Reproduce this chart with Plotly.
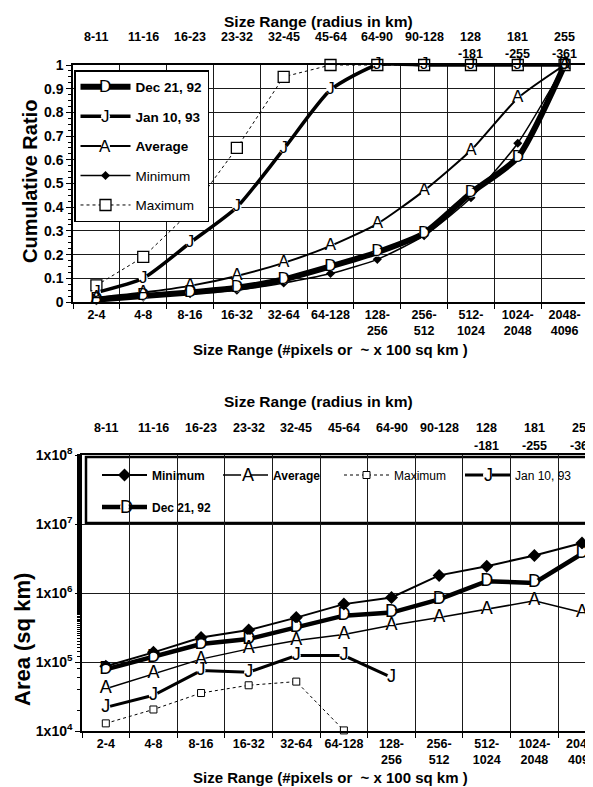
import plotly.graph_objects as go

# ---------------- data ----------------
size_cats = ["2-4", "4-8", "8-16", "16-32", "32-64", "64-128", "128-256",
             "256-512", "512-1024", "1024-2048", "2048-4096"]
size_ticktext = ["2-4", "4-8", "8-16", "16-32", "32-64", "64-128", "128-<br>256",
                 "256-<br>512", "512-<br>1024", "1024-<br>2048", "2048-<br>4096"]
radius_row1 = ["8-11", "11-16", "16-23", "23-32", "32-45", "45-64", "64-90",
               "90-128", "128", "181", "255"]
radius_row2 = ["", "", "", "", "", "", "", "", "-181", "-255", "-361"]

ratio_ticks = [0, 0.1, 0.2, 0.3, 0.4, 0.5, 0.6, 0.7, 0.8, 0.9, 1.0]
ratio_ticktext = ["0", "0.1", "0.2", "0.3", "0.4", "0.5", "0.6", "0.7", "0.8", "0.9", "1"]

# Cumulative ratio (top chart)
cum_dec = [0.01, 0.025, 0.04, 0.06, 0.095, 0.15, 0.21, 0.29, 0.46, 0.61, 1.0]
cum_jan = [0.04, 0.10, 0.25, 0.40, 0.645, 0.895, 1.0, 1.0, 1.0, 1.0, 1.0]
cum_avg = [0.018, 0.04, 0.068, 0.11, 0.165, 0.237, 0.33, 0.47, 0.64, 0.86, 1.0]
cum_min = [0.005, 0.02, 0.035, 0.05, 0.08, 0.12, 0.18, 0.28, 0.44, 0.67, 1.0]
cum_max = [0.07, 0.19, 0.38, 0.65, 0.95, 1.0, 1.0, 1.0, 1.0, 1.0, 1.0]

# Area in sq km (bottom chart)
area_min = [8.7e4, 1.38e5, 2.27e5, 2.9e5, 4.4e5, 6.9e5, 8.6e5, 1.8e6, 2.45e6, 3.5e6, 5.3e6]
area_dec = [7.8e4, 1.17e5, 1.82e5, 2.15e5, 3.2e5, 4.7e5, 5.2e5, 8.1e5, 1.48e6, 1.4e6, 3.7e6]
area_avg = [4.1e4, 6.8e4, 1.1e5, 1.55e5, 2.05e5, 2.5e5, 3.4e5, 4.4e5, 5.8e5, 7.7e5, 5.2e5]
area_jan = [2.2e4, 3.3e4, 7.5e4, 7.1e4, 1.24e5, 1.24e5, 6.0e4, None, None, None, None]
area_max = [1.29e4, 2.05e4, 3.55e4, 4.6e4, 5.2e4, 1.02e4, None, None, None, None, None]

log_tickvals = [1e4, 1e5, 1e6, 1e7, 1e8]
log_ticktext = ["1x10<sup>4</sup>", "1x10<sup>5</sup>", "1x10<sup>6</sup>",
                "1x10<sup>7</sup>", "1x10<sup>8</sup>"]

FONT = "Liberation Sans, Arial, Helvetica, sans-serif"
PAGE_W, PAGE_H = 593, 787
OFF = 8  # default page body margin
W, H = PAGE_W - OFF, PAGE_H - OFF


def px_x(p):
    return (p - OFF) / W


def px_y(p):
    return (H - (p - OFF)) / H


fig = go.Figure()
letter_layers = []


def letter_series(x, y, name, letter, width, xa, ya, legend, rank, group, size=17,
                  shape="linear"):
    # line + white knock-out marker (shown in legend)
    fig.add_trace(go.Scatter(
        x=x, y=y, name=name, xaxis=xa, yaxis=ya, legend=legend, legendrank=rank,
        legendgroup=group, mode="lines+markers",
        marker=dict(symbol="circle", size=9, color="white", line=dict(width=0)),
        line=dict(color="black", width=width, shape=shape, smoothing=0.6),
        cliponaxis=False, connectgaps=False))
    # letter glyphs at each point (drawn on top, not in legend)
    letter_layers.append(go.Scatter(
        x=x, y=y, xaxis=xa, yaxis=ya, legendgroup=group, showlegend=False,
        mode="text", text=[letter if v is not None else "" for v in y],
        textposition="middle center", hoverinfo="skip",
        textfont=dict(family=FONT, size=size, color="black"), cliponaxis=False))


# ---------- top chart ----------
fig.add_trace(go.Scatter(
    x=size_cats, y=cum_max, name="Maximum", xaxis="x", yaxis="y", legend="legend",
    legendrank=5, legendgroup="t5", mode="lines+markers",
    marker=dict(symbol="square", size=11, color="white", line=dict(color="black", width=1.3)),
    line=dict(color="black", width=1, dash="dot"), cliponaxis=False))
fig.add_trace(go.Scatter(
    x=size_cats, y=cum_min, name="Minimum", xaxis="x", yaxis="y", legend="legend",
    legendrank=4, legendgroup="t4", mode="lines+markers",
    marker=dict(symbol="diamond", size=7, color="black"),
    line=dict(color="black", width=1.5, shape="spline", smoothing=0.6), cliponaxis=False))
letter_series(size_cats, cum_avg, "<b>Average</b>", "A", 2, "x", "y",
              "legend", 3, "t3", shape="spline")
letter_series(size_cats, cum_jan, "<b>Jan 10, 93</b>", "J", 3.5, "x", "y",
              "legend", 2, "t2", shape="spline")
letter_series(size_cats, cum_dec, "<b>Dec 21, 92</b>", "D", 6, "x", "y",
              "legend", 1, "t1", shape="spline")

# ---------- bottom chart ----------
fig.add_trace(go.Scatter(
    x=size_cats, y=area_max, name="Maximum", xaxis="x2", yaxis="y2", legend="legend2",
    legendrank=3, mode="lines+markers",
    marker=dict(symbol="square", size=7, color="white", line=dict(color="black", width=1)),
    line=dict(color="black", width=1, dash="dot"), cliponaxis=False))
fig.add_trace(go.Scatter(
    x=size_cats, y=area_min, name="<b>Minimum</b>", xaxis="x2", yaxis="y2", legend="legend2",
    legendrank=1, mode="lines+markers",
    marker=dict(symbol="diamond", size=10, color="black"),
    line=dict(color="black", width=2), cliponaxis=False))
letter_series(size_cats, area_avg, "<b>Average</b>", "A", 1.5, "x2", "y2",
              "legend2", 2, "b2", size=18)
letter_series(size_cats, area_jan, "Jan 10, 93", "J", 3, "x2", "y2",
              "legend2", 4, "b4", size=18)
letter_series(size_cats, area_dec, "<b>Dec 21, 92</b>", "D", 4.5, "x2", "y2",
              "legend3", 1, "b5", size=18)

for tr in letter_layers:
    fig.add_trace(tr)

axis_common = dict(showline=True, linecolor="black", linewidth=1.5, mirror=True,
                   gridcolor="#1a1a1a", gridwidth=1, ticks="outside", ticklen=5,
                   tickcolor="black", zeroline=False)

top_left, top_right = 73, 588
bot_left = 82
step_bot = 47.6
bot_first = 106

fig.update_layout(
    width=W, height=H, margin=dict(l=0, r=0, t=0, b=0, autoexpand=False),
    paper_bgcolor="white", plot_bgcolor="white",
    font=dict(family=FONT, color="black"),
    xaxis=dict(domain=[px_x(top_left), px_x(top_right)], anchor="y", type="category",
               categoryorder="array", categoryarray=size_cats,
               range=[-0.5, 10.5], tickmode="array", tickvals=size_cats,
               ticktext=size_ticktext, tickson="boundaries", showgrid=True, tickangle=0,
               tickfont=dict(size=12.5, weight="bold"), **axis_common),
    yaxis=dict(domain=[px_y(302), px_y(65)], anchor="x", range=[0, 1],
               tickmode="array", tickvals=ratio_ticks, ticktext=ratio_ticktext,
               showgrid=True, tickfont=dict(size=14, weight="bold"),
               minor=dict(ticks="outside", ticklen=3, dtick=0.025, showgrid=False,
                          tickcolor="black"), **axis_common),
    xaxis2=dict(domain=[px_x(bot_left), 1.0], anchor="y2", type="category",
                categoryorder="array", categoryarray=size_cats,
                range=[-0.5, (PAGE_W - bot_first) / step_bot], tickmode="array",
                tickvals=size_cats, ticktext=size_ticktext, tickson="boundaries",
                showgrid=True, tickangle=0, tickfont=dict(size=12.5, weight="bold"),
                **axis_common),
    yaxis2=dict(domain=[px_y(731), px_y(455)], anchor="x2", type="log", range=[4, 8],
                tickmode="array", tickvals=log_tickvals, ticktext=log_ticktext,
                showgrid=True, tickfont=dict(size=14, weight="bold"),
                minor=dict(ticks="outside", ticklen=3, showgrid=False, tickcolor="black"),
                **axis_common),
    legend=dict(x=px_x(74), y=px_y(70), xanchor="left", yanchor="top",
                bgcolor="white", bordercolor="black", borderwidth=1.5,
                font=dict(size=13.5, family=FONT), tracegroupgap=9, itemwidth=50,
                traceorder="grouped", itemclick=False),
    legend2=dict(x=px_x(97), y=px_y(475), xanchor="left", yanchor="middle",
                 orientation="h", bgcolor="rgba(0,0,0,0)", borderwidth=0,
                 font=dict(size=12, family=FONT), entrywidth=61, itemwidth=45,
                 entrywidthmode="pixels", traceorder="normal"),
    legend3=dict(x=px_x(97), y=px_y(507), xanchor="left", yanchor="middle",
                 orientation="h", bgcolor="rgba(0,0,0,0)", borderwidth=0, itemwidth=45,
                 font=dict(size=12, family=FONT)),
    showlegend=True,
)

# bottom legend frame
fig.add_shape(type="rect", xref="paper", yref="paper",
              x0=px_x(86), x1=px_x(587), y0=px_y(523), y1=px_y(457),
              line=dict(color="black", width=2.5), fillcolor="white", layer="below")

annotations = []


def ann(text, x, y, size, xref="paper", angle=0):
    annotations.append(dict(text=text, xref=xref, yref="paper", x=x, y=y,
                            xanchor="center", yanchor="middle", showarrow=False,
                            textangle=angle, font=dict(size=size)))


# top chart header
ann("<b>Size Range (radius in km)</b>", px_x(318), px_y(21), 15.5)
for cat, r1, r2 in zip(size_cats, radius_row1, radius_row2):
    ann("<b>%s</b>" % r1, cat, px_y(37), 12.5, xref="x")
    if r2:
        ann("<b>%s</b>" % r2, cat, px_y(54), 12.5, xref="x")
ann("<b>Size Range (#pixels or  ~ x 100 sq km )</b>", px_x(330), px_y(349), 15)
ann("<b>Cumulative Ratio</b>", px_x(30), px_y(182), 20, angle=-90)
# bottom chart header
ann("<b>Size Range (radius in km)</b>", px_x(318), px_y(402), 15.5)
for cat, r1, r2 in zip(size_cats, radius_row1, radius_row2):
    ann("<b>%s</b>" % r1, cat, px_y(428), 12.5, xref="x2")
    if r2:
        ann("<b>%s</b>" % r2, cat, px_y(446), 12.5, xref="x2")
ann("<b>Size Range (#pixels or  ~ x 100 sq km )</b>", px_x(330), px_y(777), 15)
ann("<b>Area (sq km)</b>", px_x(22), px_y(640), 22, angle=-90)

# letter glyphs on the legend symbols
legend_letters = [("D", 105, 87, 17), ("J", 105, 117, 17), ("A", 105, 147, 17),
                  ("A", 248, 475, 18), ("J", 488, 475, 18), ("D", 126, 507, 18)]
for letter, lx, ly, fs in legend_letters:
    ann(letter, px_x(lx), px_y(ly), fs)

fig.update_layout(annotations=annotations)

fig.write_html("out.html")
